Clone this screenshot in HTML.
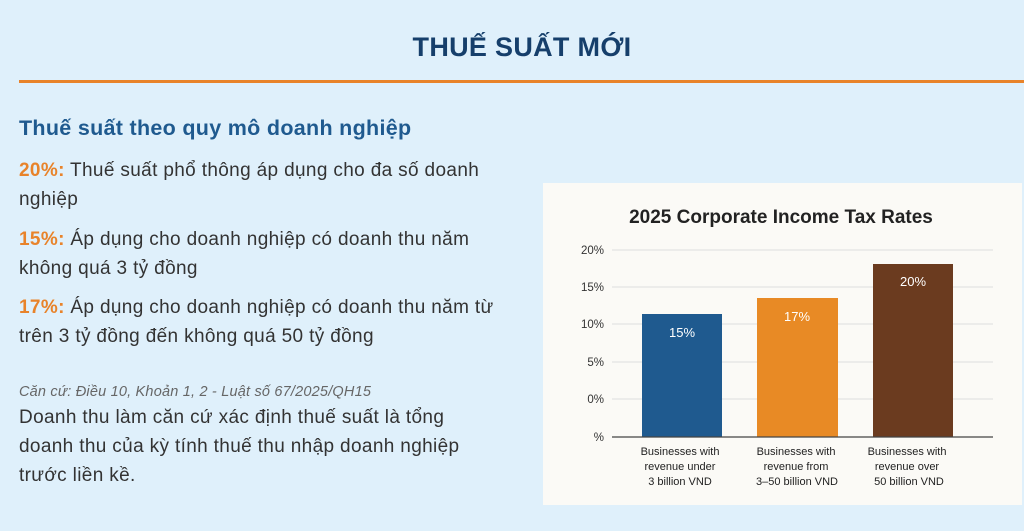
<!DOCTYPE html>
<html><head><meta charset="utf-8"><style>
*{margin:0;padding:0;box-sizing:border-box}
body{width:1024px;height:531px;background:#dff0fb;font-family:"Liberation Sans",sans-serif;position:relative;overflow:hidden;color:#333}
h1{position:absolute;top:32px;left:0;width:1044px;text-align:center;font-size:27px;color:#163f6b;font-weight:bold;letter-spacing:0.3px}
.rule{position:absolute;left:19px;right:0;top:80px;height:3px;background:#e8832a}
.h2{position:absolute;left:19px;top:116px;font-size:21.5px;font-weight:bold;color:#1f5a8f;letter-spacing:0.3px}
.p{position:absolute;left:19px;width:520px;font-size:19px;line-height:29px;color:#333;letter-spacing:0.35px;white-space:nowrap}
.p b{color:#e8832a}
.cite{position:absolute;left:19px;top:384px;font-size:14.5px;font-style:italic;color:#666;letter-spacing:0.2px}
.card{position:absolute;left:543px;top:183px;width:479px;height:322px;background:#fbfaf6}
</style></head><body>
<h1>THUẾ SUẤT MỚI</h1>
<div class="rule"></div>
<div class="h2">Thuế suất theo quy mô doanh nghiệp</div>
<div class="p" style="top:156px"><b>20%:</b> Thuế suất phổ thông áp dụng cho đa số doanh<br>nghiệp</div>
<div class="p" style="top:225px"><b>15%:</b> Áp dụng cho doanh nghiệp có doanh thu năm<br>không quá 3 tỷ đồng</div>
<div class="p" style="top:293px"><b>17%:</b> Áp dụng cho doanh nghiệp có doanh thu năm từ<br>trên 3 tỷ đồng đến không quá 50 tỷ đồng</div>
<div class="cite">Căn cứ: Điều 10, Khoản 1, 2 - Luật số 67/2025/QH15</div>
<div class="p" style="top:403px">Doanh thu làm căn cứ xác định thuế suất là tổng<br>doanh thu của kỳ tính thuế thu nhập doanh nghiệp<br>trước liền kề.</div>
<div class="card"></div>
<svg width="1024" height="531" style="position:absolute;left:0;top:0" font-family="Liberation Sans, sans-serif">
<text x="781" y="223" text-anchor="middle" font-size="19" font-weight="bold" fill="#222">2025 Corporate Income Tax Rates</text>
<g stroke="#ddd" stroke-width="1">
<line x1="612" x2="993" y1="250" y2="250"/><line x1="612" x2="993" y1="287" y2="287"/>
<line x1="612" x2="993" y1="324" y2="324"/><line x1="612" x2="993" y1="362" y2="362"/>
<line x1="612" x2="993" y1="399" y2="399"/></g>
<g font-size="11.5" fill="#333" text-anchor="end">
<text x="604" y="254">20%</text><text x="604" y="291">15%</text><text x="604" y="328">10%</text>
<text x="604" y="366">5%</text><text x="604" y="403">0%</text><text x="604" y="441">%</text></g>
<rect x="642" y="314" width="80" height="123" fill="#1f5a8f"/>
<rect x="757" y="298" width="81" height="139" fill="#e88a25"/>
<rect x="873" y="264" width="80" height="173" fill="#6b3b1f"/>
<line x1="612" x2="993" y1="437" y2="437" stroke="#444" stroke-width="1.2"/>
<g font-size="13" fill="#fff" text-anchor="middle">
<text x="682" y="337">15%</text><text x="797" y="321">17%</text><text x="913" y="286">20%</text></g>
<g font-size="11" fill="#222" text-anchor="middle">
<text x="680" y="455">Businesses with</text><text x="680" y="470">revenue under</text><text x="680" y="485">3 billion VND</text>
<text x="796" y="455">Businesses with</text><text x="796" y="470">revenue from</text><text x="797" y="485">3–50 billion VND</text>
<text x="907" y="455">Businesses with</text><text x="907" y="470">revenue over</text><text x="909" y="485">50 billion VND</text></g>
</svg>
</body></html>
